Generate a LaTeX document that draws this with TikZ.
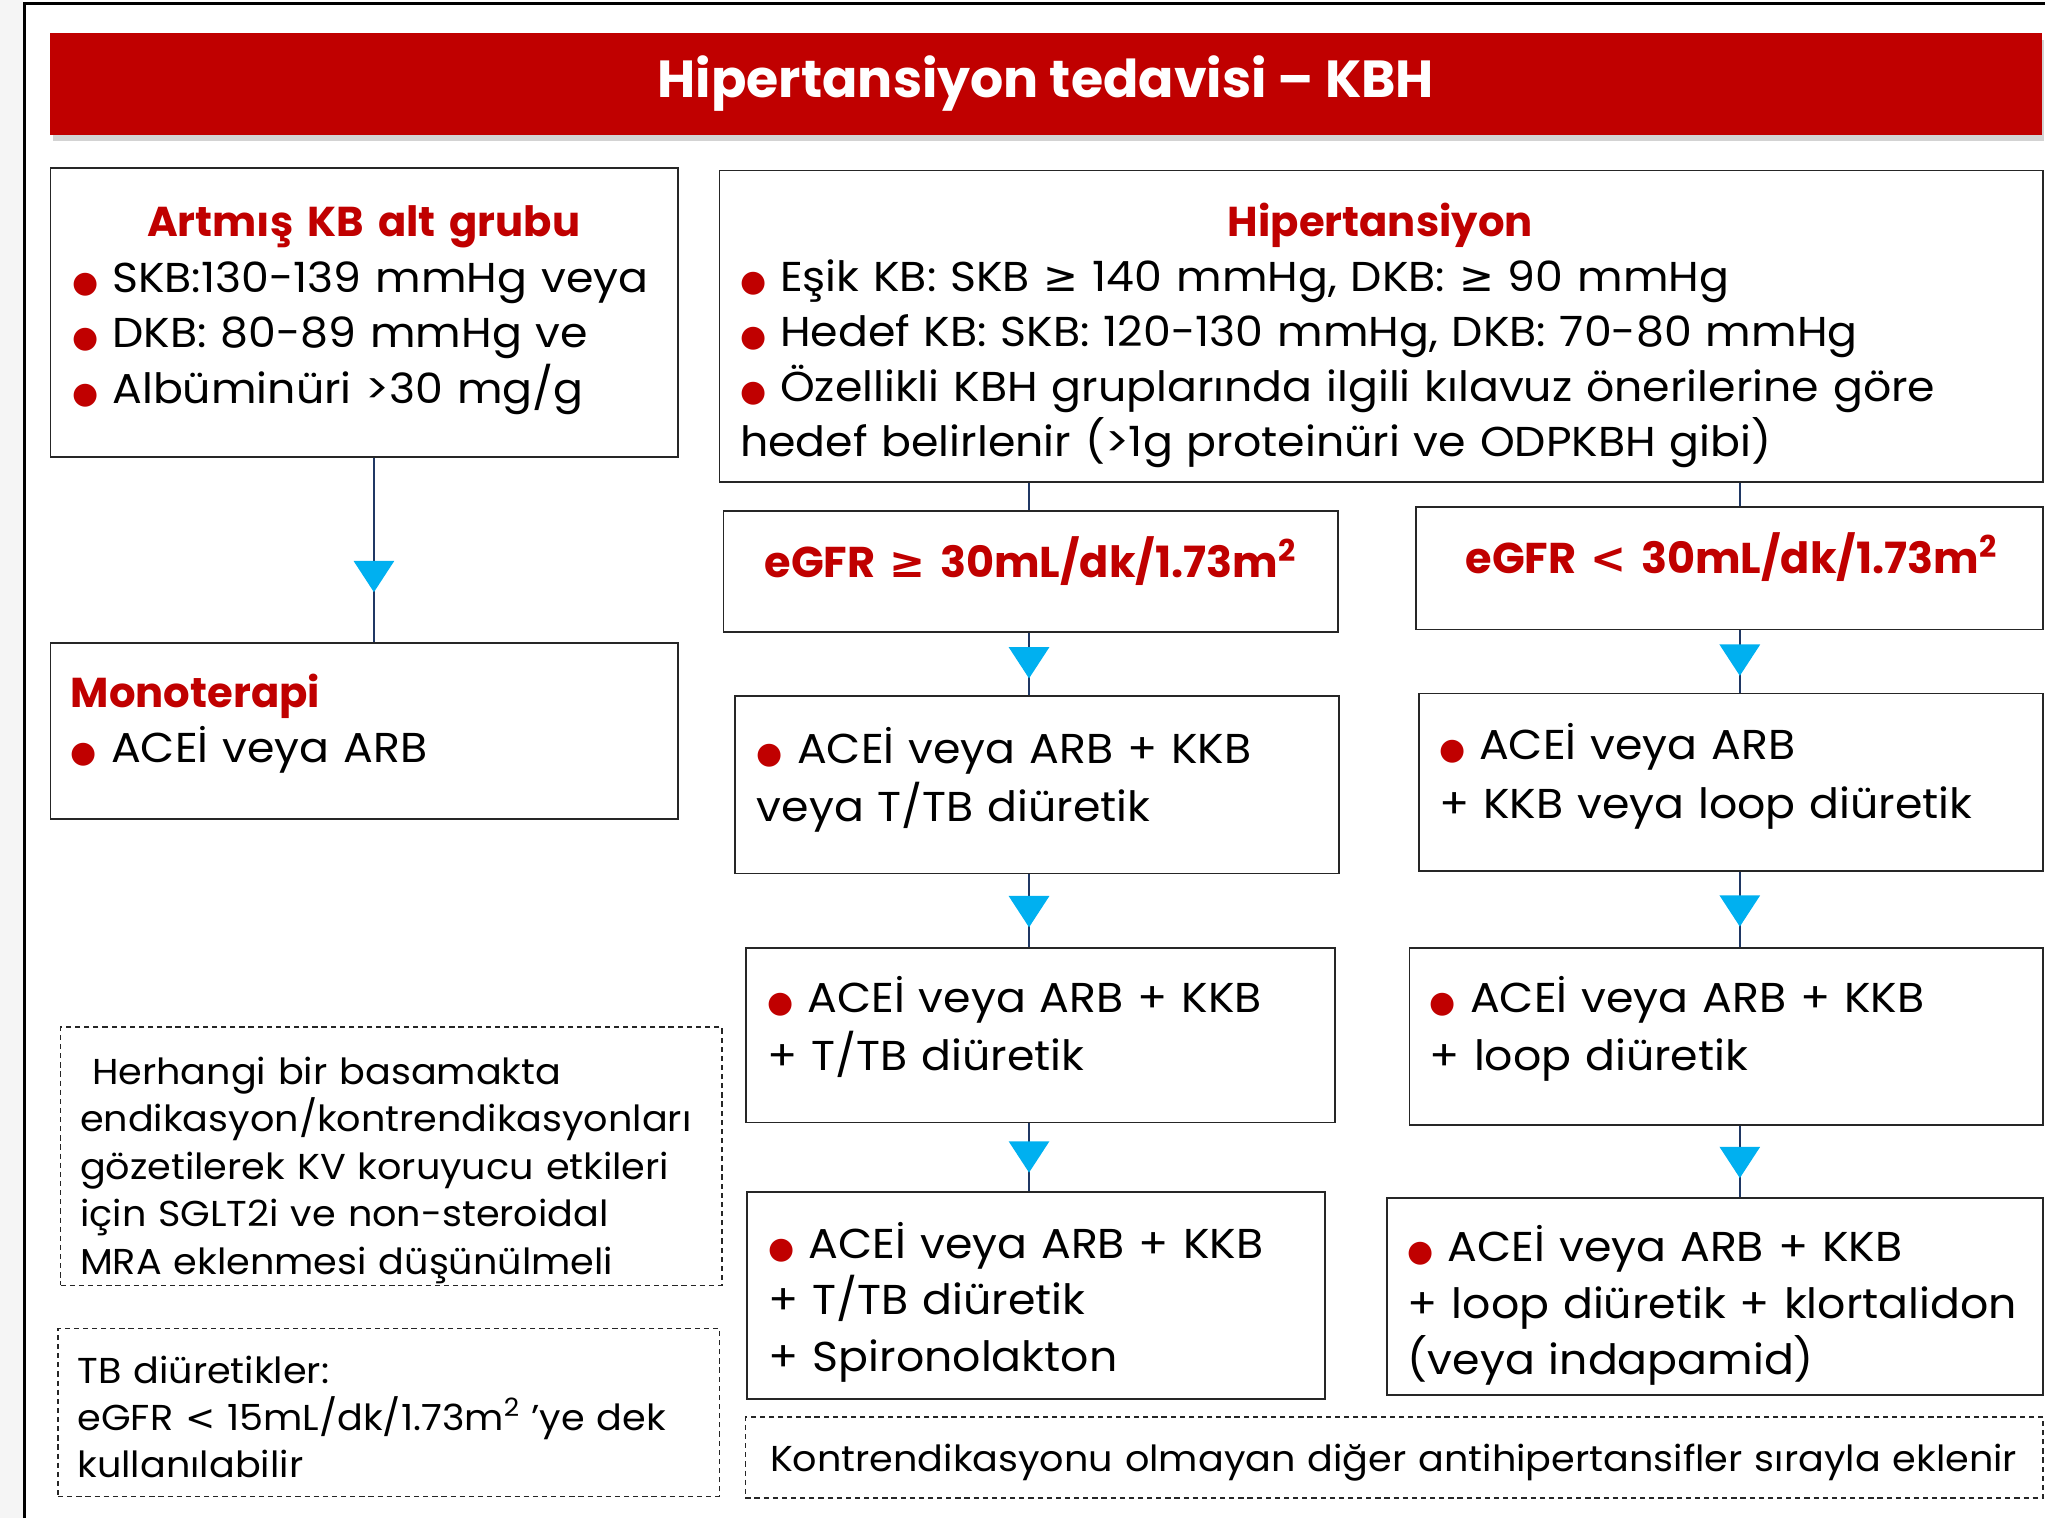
\documentclass[tikz,border=0pt]{standalone}
\usepackage{fontspec}
\setmainfont{Poppins}[UprightFeatures={FakeStretch=1.06}]
\newfontfamily\symfont{DejaVu Sans}
\usetikzlibrary{arrows.meta, decorations.markings, shadows}

\definecolor{kbred}{HTML}{C00000}
\definecolor{okcyan}{HTML}{00B0F0}
\definecolor{oknavy}{HTML}{203864}

\newcommand{\rdot}{{\color{kbred}\fontsize{11.5}{11}\symfont ●}\ }
\newcommand{\gte}{{\symfont ≥}}
\newcommand{\baslik}[1]{{\bfseries\color{kbred}#1}}

\begin{document}
\begin{tikzpicture}[x=0.5pt, y=-0.5pt,
    kutu/.style={draw=black!85, line width=0.7pt, anchor=north west, inner sep=0pt},
    notkutu/.style={kutu, line width=0.5pt, dash pattern=on 2pt off 1.5pt},
    yazi/.style={anchor=base west, inner sep=0pt, align=left, text width=240pt,
      font=\fontsize{16}{22}\selectfont},
    notyazi/.style={yazi, font=\fontsize{13.8}{18.2}\selectfont},
    esik/.style={anchor=base, inner sep=0pt, align=center, text width=230pt,
      font=\fontsize{16.5}{18}\selectfont\bfseries\color{kbred}},
    hat/.style={draw=oknavy, line width=0.6pt},
    ok/.style={hat, postaction={decorate}, decoration={markings,
      mark=at position 0.73 with {\arrow{Triangle[width=15.5pt, length=12pt, color=okcyan]}}}}]
  \useasboundingbox (0,0) rectangle (1568,1164);
  % slide frame
  \fill[gray!8] (0,0) rectangle (18,1164);
  \draw[line width=1.2pt] (19,1164) -- (19,3) -- (1568,3);

  % title bar
  \node[fill=kbred, text=white, anchor=north west, minimum width=763.5pt, minimum height=39pt,
    inner sep=0pt, font=\fontsize{20}{20}\selectfont\bfseries,
    drop shadow={shadow xshift=1pt, shadow yshift=-2.5pt, opacity=0.35}] (banner) at (38,25)
    {Hipertansiyon tedavisi – KBH};

  % left column
  \node[kutu, minimum width=240.5pt, minimum height=111pt] (artmis) at (38,128) {};
  \node[yazi, text width=223.5pt, font=\fontsize{16}{21.25}\selectfont] (artmisY)
    at ([shift={(17,53.7)}]artmis.north west)
    {\makebox[\linewidth]{\baslik{Artmış KB alt grubu}}\\
     \rdot SKB:130-139 mmHg veya\\
     \rdot DKB: 80-89 mmHg ve\\
     \rdot Albüminüri >30 mg/g};
  \node[kutu, minimum width=240.5pt, minimum height=67.5pt] (mono) at (38,492) {};
  \node[yazi, font=\fontsize{16}{21.2}\selectfont] (monoY) at ([shift={(16,50.4)}]mono.north west)
    {\baslik{Monoterapi}\\
     \rdot ACEİ veya ARB};

  % upper right
  \node[kutu, minimum width=507.5pt, minimum height=119.5pt] (hiper) at (551,130) {};
  \node[yazi, text width=491pt, font=\fontsize{16}{21.1}\selectfont] (hiperY)
    at ([shift={(16,51)}]hiper.north west)
    {\makebox[\linewidth]{\baslik{Hipertansiyon}}\\
     \rdot Eşik KB: SKB \gte{} 140 mmHg, DKB: \gte{} 90 mmHg\\
     \rdot Hedef KB: SKB: 120-130 mmHg, DKB: 70-80 mmHg\\
     \rdot Özellikli KBH gruplarında ilgili kılavuz önerilerine göre\\
     hedef belirlenir (>1g proteinüri ve ODPKBH gibi)};
  \node[kutu, minimum width=235.5pt, minimum height=46.5pt] (egfrA) at (554,391) {};
  \node[esik] (egfrAY) at ([yshift=-25.85pt]egfrA.north)
    {eGFR \gte{} 30mL/dk/1.73m\textsuperscript{2}};
  \node[kutu, minimum width=240.5pt, minimum height=47pt] (egfrB) at (1085,388) {};
  \node[esik] (egfrBY) at ([shift={(1.5,52)}]egfrB.north)
    {eGFR {\symfont <} 30mL/dk/1.73m\textsuperscript{2}};

  % eGFR >= 30 steps
  \node[kutu, minimum width=231.5pt, minimum height=68pt] (lA1) at (563,533) {};
  \node[yazi, font=\fontsize{16}{22.1}\selectfont] (lA1Y) at ([shift={(17,52.3)}]lA1.north west)
    {\rdot ACEİ veya ARB + KKB\\ veya T/TB diüretik};
  \node[kutu, minimum width=226pt, minimum height=67pt] (lA2) at (571,726) {};
  \node[yazi] (lA2Y) at ([shift={(17,50.5)}]lA2.north west)
    {\rdot ACEİ veya ARB + KKB\\ + T/TB diüretik};
  \node[kutu, minimum width=221.5pt, minimum height=79.5pt] (lA3) at (572,913) {};
  \node[yazi, font=\fontsize{16}{21.6}\selectfont] (lA3Y) at ([shift={(17,51.8)}]lA3.north west)
    {\rdot ACEİ veya ARB + KKB\\ + T/TB diüretik\\ + Spironolakton};

  % eGFR < 30 steps
  \node[kutu, minimum width=239.5pt, minimum height=68pt] (rB1) at (1087,531) {};
  \node[yazi, font=\fontsize{16}{22.4}\selectfont] (rB1Y) at ([shift={(16,51.7)}]rB1.north west)
    {\rdot ACEİ veya ARB\\ + KKB veya loop diüretik};
  \node[kutu, minimum width=243pt, minimum height=68pt] (rB2) at (1080,726) {};
  \node[yazi] (rB2Y) at ([shift={(16,50.5)}]rB2.north west)
    {\rdot ACEİ veya ARB + KKB\\ + loop diüretik};
  \node[kutu, minimum width=251.5pt, minimum height=75.5pt] (rB3) at (1063,918) {};
  \node[yazi, font=\fontsize{16}{21.6}\selectfont] (rB3Y) at ([shift={(16,49.4)}]rB3.north west)
    {\rdot ACEİ veya ARB + KKB\\ + loop diüretik + klortalidon\\ (veya indapamid)};

  % notes
  \node[notkutu, minimum width=253.5pt, minimum height=99pt] (not1) at (46,787) {};
  \node[notyazi] (not1Y) at ([shift={(15,44.5)}]not1.north west)
    {\ Herhangi bir basamakta\\ endikasyon/kontrendikasyonları\\ gözetilerek KV koruyucu etkileri\\
     için SGLT2i ve non-steroidal\\ MRA eklenmesi düşünülmeli};
  \node[notkutu, minimum width=253.5pt, minimum height=64.5pt] (not2) at (44,1018) {};
  \node[notyazi, font=\fontsize{13.8}{18}\selectfont] (not2Y) at ([shift={(15,42.5)}]not2.north west)
    {TB diüretikler:\\ eGFR {\symfont <} 15mL/dk/1.73m\textsuperscript{2}\hspace{0.3em}’ye dek\\ kullanılabilir};
  \node[notkutu, minimum width=497.5pt, minimum height=31pt] (kontra) at (571,1086) {};
  \node[notyazi, text width=490pt] (kontraY) at ([shift={(19,41.9)}]kontra.north west)
    {Kontrendikasyonu olmayan diğer antihipertansifler sırayla eklenir};

  % connectors
  \coordinate (colA) at (789,0);
  \coordinate (colB) at (1334,0);
  \draw[ok] ([xshift=3.75pt]artmis.south) -- ([xshift=3.75pt]mono.north);
  \draw[hat] (hiper.south -| colA) -- (egfrA.north -| colA);
  \draw[hat] (hiper.south -| colB) -- (egfrB.north -| colB);
  \draw[ok] (egfrA.south -| colA) -- (lA1.north -| colA);
  \draw[ok] (lA1.south -| colA) -- (lA2.north -| colA);
  \draw[ok] (lA2.south -| colA) -- (lA3.north -| colA);
  \draw[ok] (egfrB.south -| colB) -- (rB1.north -| colB);
  \draw[ok] (rB1.south -| colB) -- (rB2.north -| colB);
  \draw[ok] (rB2.south -| colB) -- (rB3.north -| colB);
\end{tikzpicture}
\end{document}
